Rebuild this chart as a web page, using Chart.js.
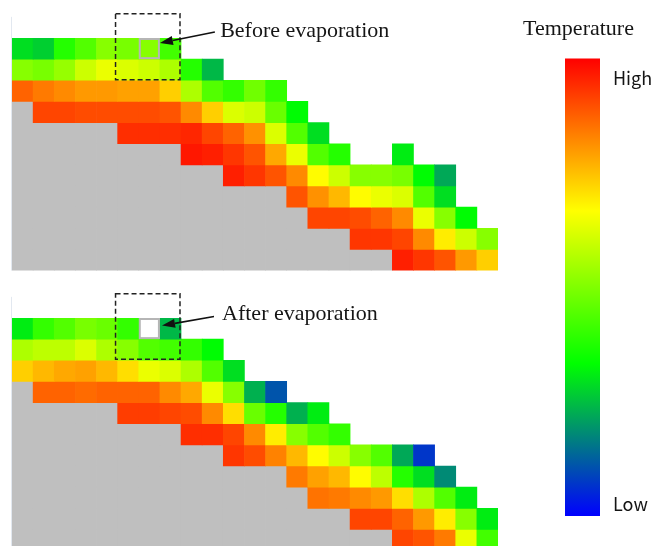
<!DOCTYPE html>
<html>
<head>
<meta charset="utf-8">
<script src="https://cdn.jsdelivr.net/npm/chart.js@4.4.1/dist/chart.umd.min.js"></script>
<style>
  html, body { margin: 0; padding: 0; background: #fff; overflow: hidden; width: 657px; height: 546px; }
  canvas { position: absolute; }
  #before { left: 0; top: 0; }
  #after { left: 0; top: 280px; }
  #scale { left: 500px; top: 0; }
</style>
</head>
<body>
<canvas id="before" width="520" height="290"></canvas>
<canvas id="after" width="520" height="290"></canvas>
<canvas id="scale" width="157" height="546"></canvas>
<script>
const COLS = 23;
const WALL = -1;     // solid substrate (grey)
const _ = null;      // empty cell
const wall = (n) => Array(n).fill(WALL);
const pad = (a) => a.concat(Array(COLS - a.length).fill(null));

const columns = Array.from({ length: COLS }, (v, i) => String(i));

// temperature level of each cell, 0 = low, 100 = high
const beforeRows = [
    [29, 27, 38, 44, 51, 49, 51, 42],
    [51, 49, 53, 60, 64, 62, 60, 56, 38, 24],
    [87, 84, 82, 80, 80, 79, 79, 73, 56, 44, 40, 48, 40],
    [...wall(1), 91, 91, 90, 90, 90, 90, 89, 82, 73, 62, 60, 47, 33],
    [...wall(5), 94, 94, 94, 95, 91, 87, 81, 62, 44, 29],
    [...wall(8), 97, 96, 93, 89, 78, 64, 44, 38, _, _, 31],
    [...wall(10), 96, 93, 89, 82, 67, 60, 51, 51, 49, 33, 22],
    [...wall(13), 89, 81, 76, 67, 64, 62, 44, 29],
    [...wall(14), 91, 91, 90, 87, 82, 64, 51, 33],
    [...wall(16), 93, 93, 91, 82, 69, 60, 51],
    [...wall(18), 96, 93, 89, 80, 73],
].map(pad);

const afterRows = [
    [31, 40, 44, 49, 47, 40, _, 24],
    [56, 58, 58, 62, 56, 51, 44, 42, 40, 33],
    [73, 76, 78, 79, 76, 71, 64, 62, 56, 44, 29],
    [...wall(1), 87, 87, 86, 87, 87, 87, 82, 78, 64, 51, 23, 11],
    [...wall(5), 92, 92, 91, 90, 82, 71, 47, 38, 23, 31],
    [...wall(8), 94, 94, 91, 82, 69, 51, 44, 40],
    [...wall(10), 93, 90, 83, 76, 67, 60, 51, 44, 22, 7],
    [...wall(13), 84, 79, 76, 67, 58, 38, 29, 18],
    [...wall(14), 85, 84, 82, 80, 71, 56, 44, 31],
    [...wall(16), 91, 91, 87, 80, 69, 51, 31],
    [...wall(18), 91, 89, 84, 64, 42],
].map(pad);

const legendLabels = ['Low', 'High'];
const legendTickValues = [0.026, 0.956];

// blue -> green -> yellow -> red
const colorStops = [
    [0, [0, 0, 255]],
    [1 / 3, [0, 255, 0]],
    [2 / 3, [255, 255, 0]],
    [1, [255, 0, 0]],
];

function tempColor(v) {
    const t = Math.max(0, Math.min(1, v / 100));
    for (let i = 1; i < colorStops.length; i++) {
        const [t1, c1] = colorStops[i];
        const [t0, c0] = colorStops[i - 1];
        if (t <= t1) {
            const k = (t - t0) / (t1 - t0);
            const c = c0.map((a, j) => Math.round(a + (c1[j] - a) * k));
            return `rgb(${c})`;
        }
    }
    return 'rgb(255,0,0)';
}

const SERIF = '"Liberation Serif", "Times New Roman", serif';

// dashed box, arrow, label and outlined cell, in grid units
const evapPlugin = {
    id: 'evap',
    afterDatasetsDraw(chart, args, o) {
        const xs = chart.scales.x, ys = chart.scales.y;
        const w = xs.getPixelForValue(1) - xs.getPixelForValue(0);
        const px = (c) => xs.getPixelForValue(0) + (c - 0.5) * w;
        const py = (r) => ys.getPixelForValue(r);
        const ctx = chart.ctx;
        ctx.save();

        // faint left edge line
        ctx.strokeStyle = '#e2e8f0';
        ctx.lineWidth = 1;
        ctx.beginPath();
        ctx.moveTo(px(0) - 0.5, py(-1));
        ctx.lineTo(px(0) - 0.5, py(chart.data.datasets.length));
        ctx.stroke();

        // outlined cell
        const [cc, cr] = o.cell;
        ctx.strokeStyle = '#b5b5b5';
        ctx.lineWidth = 2;
        ctx.strokeRect(px(cc) + 1, py(cr) + 1, w - 2, py(cr + 1) - py(cr) - 2);

        // dashed box
        const [c0, r0, c1, r1] = o.box;
        ctx.strokeStyle = '#222';
        ctx.lineWidth = 1.5;
        ctx.setLineDash([5, 3]);
        ctx.strokeRect(px(c0), py(r0), px(c1) - px(c0), py(r1) - py(r0));
        ctx.setLineDash([]);

        // arrow
        const x0 = px(o.tail[0]), y0 = py(o.tail[1]);
        const x1 = px(o.tip[0]), y1 = py(o.tip[1]);
        const a = Math.atan2(y1 - y0, x1 - x0);
        const hl = 13, hw = 4.5;
        const bx = x1 - hl * Math.cos(a), by = y1 - hl * Math.sin(a);
        ctx.strokeStyle = '#111';
        ctx.fillStyle = '#111';
        ctx.lineWidth = 1.6;
        ctx.beginPath();
        ctx.moveTo(x0, y0);
        ctx.lineTo(bx, by);
        ctx.stroke();
        ctx.beginPath();
        ctx.moveTo(x1, y1);
        ctx.lineTo(bx + hw * Math.sin(a), by - hw * Math.cos(a));
        ctx.lineTo(bx - hw * Math.sin(a), by + hw * Math.cos(a));
        ctx.closePath();
        ctx.fill();

        // label
        ctx.font = `22px ${SERIF}`;
        ctx.textBaseline = 'alphabetic';
        ctx.textAlign = 'left';
        ctx.fillStyle = '#151515';
        ctx.fillText(o.label, px(o.textAt[0]), py(o.textAt[1]));
        ctx.restore();
    },
};

function gridChart(id, rows, evap) {
    const datasets = rows.map((vals, r) => ({
        data: vals.map((v) => (v === null ? null : [r, r + 1])),
        backgroundColor: vals.map((v) => (v === WALL ? '#bfbfbf' : v === null ? 'rgba(0,0,0,0)' : tempColor(v))),
        borderWidth: 0,
    }));
    return new Chart(document.getElementById(id), {
        type: 'bar',
        data: { labels: columns, datasets },
        options: {
            responsive: false,
            animation: false,
            layout: { padding: { left: 12, top: 38, right: 22, bottom: 19.4 } },
            datasets: { bar: { grouped: false, barPercentage: 1, categoryPercentage: 1 } },
            plugins: { legend: { display: false }, tooltip: { enabled: false }, evap },
            scales: {
                x: { display: false },
                y: { display: false, min: 0, max: rows.length, reverse: true },
            },
        },
        plugins: [evapPlugin],
    });
}

gridChart('before', beforeRows, {
    label: 'Before evaporation',
    cell: [6, 0],
    box: [4.9, -1.15, 7.95, 1.98],
    tail: [9.6, -0.28],
    tip: [7.0, 0.24],
    textAt: [9.85, -0.05],
});

gridChart('after', afterRows, {
    label: 'After evaporation',
    cell: [6, 0],
    box: [4.9, -1.15, 7.95, 1.95],
    tail: [9.56, -0.07],
    tip: [7.1, 0.36],
    textAt: [9.94, 0.1],
});

// colour scale
new Chart(document.getElementById('scale'), {
    type: 'bar',
    data: {
        labels: ['Temperature'],
        datasets: [{
            data: [[0, 1]],
            yAxisID: 'y',
            backgroundColor: (c) => {
                const area = c.chart.chartArea;
                if (!area) return 'red';
                const g = c.chart.ctx.createLinearGradient(0, area.bottom, 0, area.top);
                colorStops.forEach(([t, rgb]) => g.addColorStop(t, `rgb(${rgb})`));
                return g;
            },
            barPercentage: 1,
            categoryPercentage: 1,
        }],
    },
    options: {
        responsive: false,
        animation: false,
        layout: { padding: { bottom: 30 } },
        plugins: {
            legend: { display: false },
            tooltip: { enabled: false },
            title: {
                display: true,
                text: 'Temperature',
                color: '#151515',
                font: { family: SERIF, size: 22, weight: 'normal' },
                padding: { top: 16, bottom: 16 },
            },
        },
        scales: {
            x: { display: false },
            yl: {
                position: 'left',
                min: 0, max: 1,
                ticks: { display: false },
                grid: { display: false, drawTicks: false },
                border: { display: false },
                afterFit: (a) => { a.width = 65; },
            },
            y: {
                position: 'right',
                min: 0, max: 1,
                grid: { display: false, drawTicks: false },
                border: { display: false },
                afterBuildTicks: (a) => { a.ticks = legendTickValues.map((value) => ({ value })); },
                afterFit: (a) => { a.width = 57; },
                ticks: {
                    padding: 13,
                    color: '#151515',
                    font: { family: '"Noto Sans CJK JP", "Noto Sans", sans-serif', size: 18 },
                    callback: (v, i) => legendLabels[i],
                },
            },
        },
    },
});
</script>
</body>
</html>
